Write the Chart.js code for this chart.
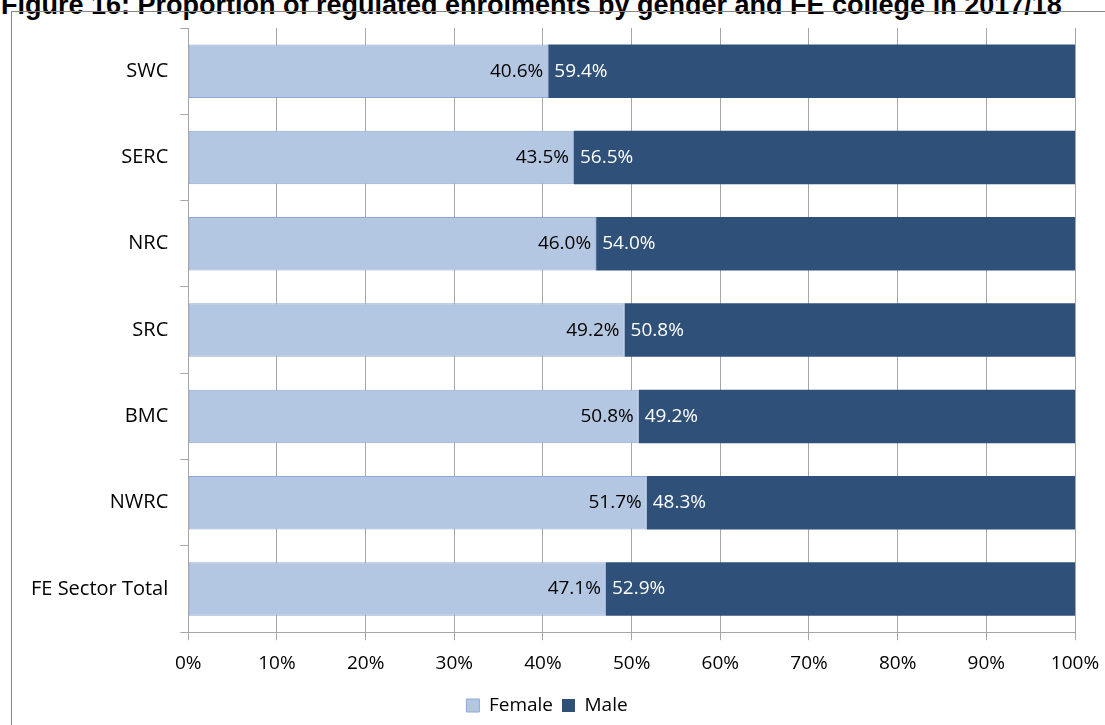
<!DOCTYPE html>
<html>
<head>
<meta charset="utf-8">
<script src="https://cdn.jsdelivr.net/npm/chart.js@4/dist/chart.umd.min.js"></script>
<style>
  body { margin: 0; background: #fff; width: 1105px; height: 725px; overflow: hidden; position: relative; }
  #title { position: absolute; left: 1px; top: -10px; font: bold 27px "Liberation Sans", Arial, sans-serif; color: #000; white-space: nowrap; }
  #frame { position: absolute; left: 11px; top: 11px; width: 1100px; height: 720px; border: 1px solid #868686; }
  #wrap { position: absolute; left: 12px; top: 12px; width: 1093px; height: 713px; }
</style>
</head>
<body>
<div id="title">Figure 16: Proportion of regulated enrolments by gender and FE college in 2017/18</div>
<div id="frame"></div>
<div id="wrap"><canvas id="bar_chart"></canvas></div>
<script>
const colleges = ["SWC", "SERC", "NRC", "SRC", "BMC", "NWRC", "FE Sector Total"];
const female = [40.6, 43.5, 46.0, 49.2, 50.8, 51.7, 47.1];
const male = [59.4, 56.5, 54.0, 50.8, 49.2, 48.3, 52.9];
const xTicks = [0, 10, 20, 30, 40, 50, 60, 70, 80, 90, 100];

const fontFamily = "Open Sans";
const fontSize = 19;

// write the percentages on the bars
const barLabels = {
  id: "barLabels",
  afterDatasetsDraw(chart) {
    const ctx = chart.ctx;
    ctx.save();
    ctx.font = fontSize + 'px "' + fontFamily + '"';
    ctx.textBaseline = "middle";
    chart.data.datasets.forEach((ds, i) => {
      chart.getDatasetMeta(i).data.forEach((bar, j) => {
        const txt = ds.data[j].toFixed(1) + "%";
        if (i === 0) {
          ctx.fillStyle = "#000";
          ctx.textAlign = "right";
          ctx.fillText(txt, bar.x - 5, bar.y);
        } else {
          ctx.fillStyle = "#fff";
          ctx.textAlign = "left";
          ctx.fillText(txt, bar.base + 6, bar.y);
        }
      });
    });
    ctx.restore();
  }
};

function generateBarChart() {
  try {
    const ctx = document.getElementById("bar_chart");

    const chart = new Chart(ctx, {
      type: "bar",
      data: {
        labels: colleges,
        datasets: [
          {
            label: "Female",
            data: female,
            backgroundColor: "#b4c7e2",
            borderColor: "#8eaad4",
            borderWidth: 1,
            borderSkipped: false,
            barPercentage: 0.62,
            categoryPercentage: 1,
          },
          {
            label: "Male",
            data: male,
            backgroundColor: "#2f5079",
            borderColor: "#2f5079",
            borderWidth: 0,
            barPercentage: 0.62,
            categoryPercentage: 1,
          },
        ],
      },
      options: {
        indexAxis: "y",
        responsive: true,
        maintainAspectRatio: false,
        animation: false,
        layout: { padding: { left: 7, right: 30, top: 16, bottom: 0 } },
        scales: {
          x: {
            stacked: true,
            min: 0,
            max: 100,
            afterBuildTicks: (axis) => { axis.ticks = xTicks.map((v) => ({ value: v })); },
            afterFit: (axis) => { axis.paddingLeft = 0; axis.paddingRight = 0; },
            ticks: {
              callback: (v) => v + "%",
              color: "#000",
              font: { family: fontFamily, size: fontSize },
              padding: 12,
              maxRotation: 0,
            },
            grid: { color: "#a6a6a6", tickLength: 8 },
            border: { color: "#a6a6a6" },
          },
          y: {
            stacked: true,
            afterFit: (axis) => { axis.paddingTop = 0; axis.paddingBottom = 0; },
            ticks: {
              color: "#000",
              font: { family: fontFamily, size: 20 },
              padding: 12,
            },
            grid: { drawOnChartArea: false, color: "#a6a6a6", tickLength: 8, offset: true },
            border: { color: "#a6a6a6" },
          },
        },
        plugins: {
          legend: {
            position: "bottom",
            labels: {
              color: "#000",
              font: { family: fontFamily, size: fontSize },
              boxWidth: 13,
              boxHeight: 13,
              padding: 9,
            },
          },
          tooltip: { enabled: false },
        },
      },
      plugins: [barLabels],
    });
  } catch (error) {
    console.error("Error:", error);
  }
}

generateBarChart();
</script>
</body>
</html>
